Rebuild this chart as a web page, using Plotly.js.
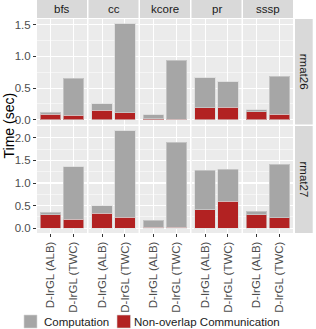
<!DOCTYPE html>
<html><head><meta charset="utf-8">
<script src="https://cdn.plot.ly/plotly-3.0.1.min.js"></script>
<style>html,body{margin:0;padding:0;background:#fff;}#chart{width:316px;height:329px;}</style>
</head><body><div id="chart"></div>
<script>
var algorithms = ['bfs','cc','kcore','pr','sssp'];
var variants = ['D-IrGL (ALB)','D-IrGL (TWC)'];
var graphs = ['rmat26','rmat27'];
var seriesNames = ['Computation','Non-overlap Communication'];
// Non-overlap communication time (sec), per algorithm: [ALB, TWC]
var commRmat26 = [[0.084,0.068],[0.15,0.11],[0.015,0.01],[0.187,0.20],[0.125,0.084]];
var commRmat27 = [[0.296,0.193],[0.333,0.244],[0.022,0.015],[0.41,0.60],[0.30,0.23]];
// Computation time (sec), per algorithm: [ALB, TWC]
var compRmat26 = [[0.031,0.584],[0.10,1.405],[0.063,0.93],[0.476,0.396],[0.035,0.599]];
var compRmat27 = [[0.059,1.167],[0.163,1.911],[0.156,1.885],[0.87,0.70],[0.07,1.185]];
var yMax = [1.515, 2.155];

var commData = [commRmat26, commRmat27];
var compData = [compRmat26, compRmat27];
var RED = '#B22222', GRAY = '#A6A6A6';
var W = 316, H = 329, ML = 37, MR = 23, MT = 19, MB = 96;
var PW = W-ML-MR, PH = H-MT-MB;
var panelW = 50, gapW = (PW - 5*panelW)/4;
function px2x(p){ return (p-ML)/PW; }
function px2y(p){ return (H-MB-p)/PH; }
var traces = [];
var layout = {
  width: W, height: H, margin:{l:ML,r:MR,t:MT,b:MB,pad:0},
  paper_bgcolor:'#ffffff', plot_bgcolor:'#EBEBEB',
  barmode:'stack', bargap:0.1, showlegend:false,
  font:{family:'Liberation Sans, Arial, sans-serif', size:11.5, color:'#4D4D4D'},
  shapes:[], annotations:[], hovermode:false
};
var rowDom = [[(PH-105.5)/PH,1],[0,107/PH]];
for (var r=0;r<2;r++){
  for (var c=0;c<5;c++){
    var idx = r*5+c+1;
    var xa = 'x'+(idx===1?'':idx), ya = 'y'+(idx===1?'':idx);
    var xk = 'xaxis'+(idx===1?'':idx), yk = 'yaxis'+(idx===1?'':idx);
    var x0 = (c*(panelW+gapW))/PW, x1 = (c*(panelW+gapW)+panelW)/PW;
    layout[xk] = {domain:[x0,x1], anchor:ya, type:'category', categoryarray:variants,
      range:[-0.6,1.6], showgrid:true, gridcolor:'#ffffff', gridwidth:1.1, zeroline:false,
      showline:false, ticks: r===1?'outside':'', ticklen:3, tickcolor:'#333333', tickwidth:1,
      showticklabels: r===1, tickangle:-90, tickfont:{size:11.5,color:'#4D4D4D'}, fixedrange:true};
    layout[yk] = {domain:rowDom[r], anchor:xa, range:[-0.05*yMax[r], 1.05*yMax[r]],
      dtick:0.5, tick0:0, tickformat:'.1f', showgrid:true, gridcolor:'#ffffff', gridwidth:1.1,
      minor:{dtick:0.25, tick0:0, showgrid:true, gridcolor:'#ffffff', gridwidth:0.5},
      zeroline:false, showline:false, ticks: c===0?'outside':'', ticklen:3, tickcolor:'#333333',
      showticklabels: c===0, tickfont:{size:11.5,color:'#4D4D4D'}, fixedrange:true};
    traces.push({type:'bar', x:variants, y:commData[r][c], xaxis:xa, yaxis:ya,
      name:seriesNames[1], marker:{color:RED, line:{color:'rgba(215,215,215,0.6)', width:1}}, width:0.9});
    traces.push({type:'bar', x:variants, y:compData[r][c], xaxis:xa, yaxis:ya,
      name:seriesNames[0], marker:{color:GRAY, line:{color:'rgba(215,215,215,0.6)', width:1}}, width:0.9});
    if (r===0){
      layout.shapes.push({type:'rect', xref:xa+' domain', yref:'paper', x0:0, x1:1,
        y0:(PH+1)/PH, y1:(PH+MT)/PH, fillcolor:'#D9D9D9', line:{width:0}, layer:'below'});
      layout.annotations.push({xref:xa+' domain', yref:'paper', x:0.5, y:(PH+MT/2+0.5)/PH,
        text:algorithms[c], showarrow:false, font:{size:11.5,color:'#1A1A1A'},
        xanchor:'center', yanchor:'middle'});
    }
  }
  var yref = (r===0?'y':'y6')+' domain';
  layout.shapes.push({type:'rect', xref:'paper', yref:yref, x0:(PW+2)/PW, x1:(PW+19.7)/PW,
    y0:0, y1:1, fillcolor:'#D9D9D9', line:{width:0}, layer:'below'});
  layout.annotations.push({xref:'paper', yref:yref, x:(PW+11)/PW, y:0.5, text:graphs[r],
    textangle:90, showarrow:false, font:{size:11.5,color:'#1A1A1A'}, xanchor:'center', yanchor:'middle'});
}
layout.annotations.push({xref:'paper', yref:'paper', x:px2x(8.5), y:0.5, text:'Time (sec)',
  textangle:-90, showarrow:false, font:{size:14,color:'#000'}, xanchor:'center', yanchor:'middle'});
// legend (drawn as keys + labels, ggplot-style bottom legend)
var legendKeys = [{color:GRAY, x0:24, x1:37, tx:42}, {color:RED, x0:117, x1:130.5, tx:132}];
for (var k=0;k<2;k++){
  layout.shapes.push({type:'rect', xref:'paper', yref:'paper',
    x0:px2x(legendKeys[k].x0), x1:px2x(legendKeys[k].x1), y0:px2y(328), y1:px2y(315),
    fillcolor:legendKeys[k].color, line:{color:'rgba(215,215,215,0.6)', width:1}});
  layout.annotations.push({xref:'paper', yref:'paper', x:px2x(legendKeys[k].tx), y:px2y(321.5),
    text:seriesNames[k], showarrow:false, xanchor:'left', yanchor:'middle',
    font:{size:11.5,color:'#1A1A1A'}});
}
Plotly.newPlot('chart', traces, layout, {displayModeBar:false, staticPlot:true});
</script></body></html>
